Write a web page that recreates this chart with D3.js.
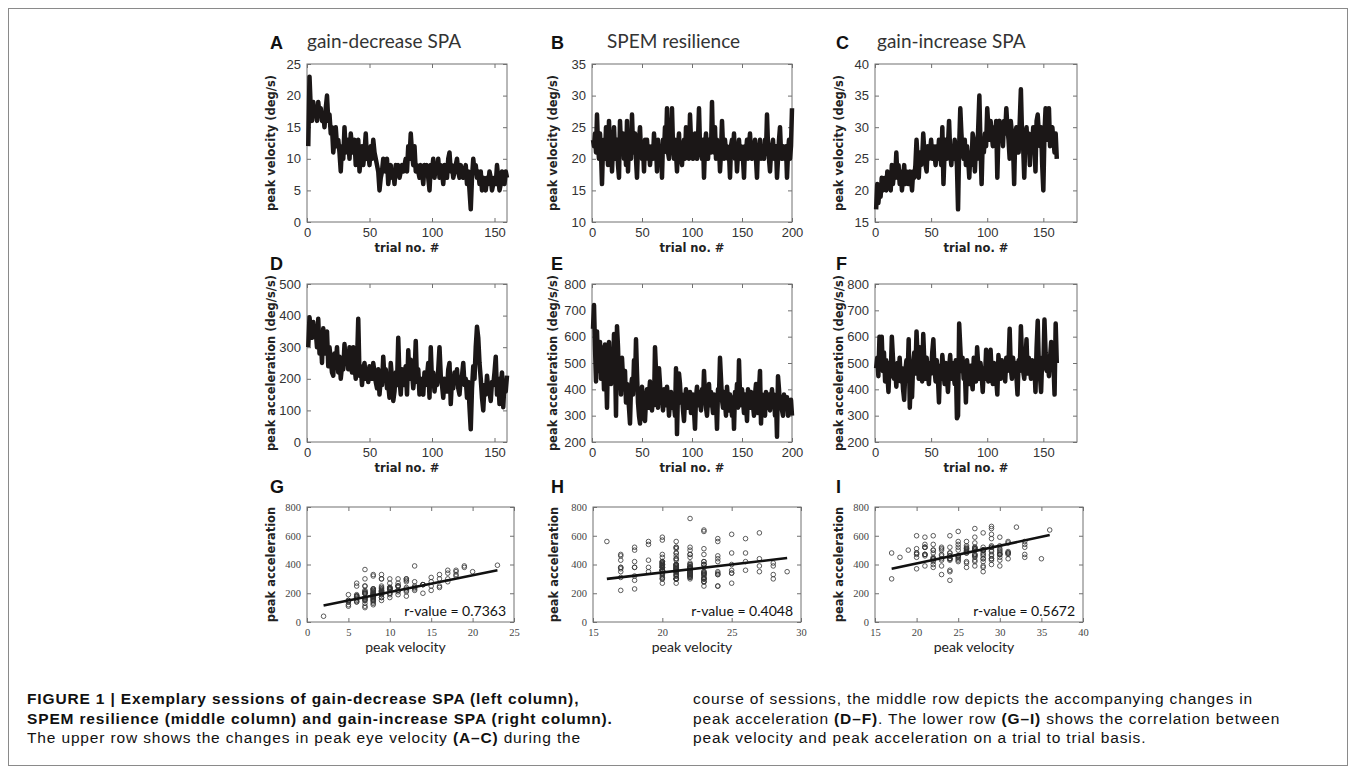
<!DOCTYPE html>
<html>
<head>
<meta charset="utf-8">
<script src="https://cdn.jsdelivr.net/npm/d3@7"></script>
<style>
  body { margin: 0; background: #fff; }
  svg { display: block; }
</style>
</head>
<body>
<svg id="fig" width="1355" height="771"></svg>
<script>
// ---- data ----
// peak velocity per trial (deg/s)
const velDecrease = [
  12, 23, 18, 16, 19, 17, 18, 16, 19, 17,  18, 16, 17, 15, 18, 20, 16, 17, 14, 15,
  11, 13, 15, 12, 13, 11, 8, 12, 10, 15,   11, 12, 13, 10, 14, 12, 11, 13, 9, 11,
  13, 8, 10, 12, 9, 11, 14, 10, 11, 9,     12, 10, 13, 11, 10, 9, 8, 5, 7, 8,
  10, 9, 8, 10, 6, 8, 9, 7, 8, 6,          9, 8, 9, 7, 8, 9, 8, 9, 10, 8,
  12, 10, 14, 11, 9, 12, 8, 9, 8, 7,       9, 8, 6, 9, 8, 9, 7, 5, 9, 8,
  10, 7, 9, 8, 10, 7, 9, 8, 6, 9,          8, 7, 10, 11, 8, 9, 7, 8, 9, 10,
  8, 7, 9, 8, 7, 8, 9, 6, 8, 5,            2, 7, 10, 8, 9, 7, 8, 6, 8, 5,
  7, 6, 5, 7, 6, 8, 7, 5, 6, 7,            6, 9, 7, 5, 6, 8, 7, 6, 8, 7
];
const velResilience = [
  23, 22, 24, 21, 27, 22, 20, 24, 21, 16,  22, 23, 20, 25, 22, 19, 26, 21, 23, 18,
  22, 25, 21, 20, 23, 19, 17, 26, 22, 21,  24, 20, 22, 19, 26, 18, 23, 21, 20, 27,
  22, 21, 24, 20, 17, 22, 23, 25, 21, 20,  22, 18, 23, 21, 23, 20, 22, 19, 21, 22,
  20, 24, 21, 22, 18, 23, 21, 20, 22, 17,  23, 21, 25, 22, 28, 21, 20, 24, 22, 28,
  22, 20, 23, 21, 18, 22, 24, 20, 21, 19,  22, 23, 20, 25, 21, 22, 20, 27, 23, 21,
  20, 22, 24, 21, 20, 23, 28, 22, 21, 20,  23, 17, 22, 24, 21, 20, 23, 22, 21, 29,
  22, 21, 25, 20, 23, 21, 22, 18, 21, 26,  22, 20, 23, 21, 22, 20, 21, 17, 22, 23,
  21, 24, 20, 22, 18, 21, 23, 20, 22, 21,  20, 17, 22, 21, 23, 20, 22, 24, 21, 20,
  22, 21, 23, 20, 17, 22, 21, 23, 20, 22,  21, 20, 23, 21, 27, 22, 20, 18, 21, 22,
  23, 20, 21, 22, 17, 20, 23, 25, 21, 20,  22, 21, 20, 22, 17, 21, 23, 20, 22, 28
];
const velIncrease = [
  17, 21, 18, 20, 19, 22, 20, 21, 22, 20,  23, 21, 22, 20, 24, 21, 23, 22, 26, 22,
  24, 21, 23, 20, 22, 24, 21, 23, 22, 21,  23, 22, 20, 23, 22, 24, 28, 25, 22, 26,
  24, 25, 29, 26, 24, 23, 27, 25, 26, 28,  25, 27, 26, 24, 27, 25, 28, 26, 24, 30,
  21, 26, 28, 25, 27, 31, 26, 24, 27, 25,  28, 26, 24, 17, 27, 33, 29, 26, 25, 28,
  24, 27, 25, 22, 26, 24, 29, 28, 23, 27,  25, 30, 35, 27, 21, 28, 26, 29, 27, 33,
  30, 28, 31, 29, 27, 30, 28, 31, 22, 29,  31, 28, 30, 27, 31, 29, 33, 30, 28, 25,
  31, 29, 27, 21, 29, 30, 28, 26, 31, 36,  29, 27, 22, 28, 30, 27, 29, 24, 28, 27,
  30, 28, 23, 31, 32, 29, 27, 30, 24, 20,  29, 33, 30, 28, 33, 27, 29, 30, 28, 26,
  29, 25
];
// peak acceleration per trial (deg/s/s)
const accDecrease = [
  300, 395, 360, 330, 380, 340, 350, 300, 390, 280,  330, 250, 360, 280, 320, 350, 240, 300, 260, 220,
  210, 280, 250, 300, 220, 270, 200, 240, 230, 310,  250, 280, 230, 300, 260, 220, 300, 240, 200, 250,
  390, 210, 240, 180, 230, 250, 200, 230, 190, 240,  230, 200, 250, 220, 190, 170, 230, 150, 200, 180,
  270, 200, 230, 170, 180, 140, 250, 200, 130, 160,  220, 180, 330, 200, 150, 230, 180, 210, 240, 150,
  290, 200, 260, 220, 170, 210, 320, 190, 230, 150,  200, 170, 150, 220, 180, 210, 250, 140, 300, 190,
  220, 160, 200, 180, 230, 300, 210, 180, 140, 200,  190, 160, 230, 250, 120, 200, 170, 220, 190, 230,
  170, 150, 200, 210, 250, 180, 200, 140, 190, 110,  40, 170, 240, 200, 300, 365, 330, 250, 200, 140,
  100, 180, 150, 210, 170, 160, 130, 190, 180, 220,  270, 150, 200, 120, 180, 220, 110, 190, 160, 210
];
const accResilience = [
  630, 720, 560, 430, 620, 500, 470, 580, 440, 560,  520, 400, 570, 480, 330, 540, 580, 460, 420, 500,
  450, 610, 520, 300, 640, 560, 430, 480, 380, 520,  440, 400, 470, 350, 420, 380, 330, 270, 410, 440,
  380, 510, 420, 590, 460, 350, 300, 270, 380, 410,  340, 290, 280, 360, 400, 330, 380, 430, 350, 320,
  390, 340, 560, 470, 380, 330, 480, 420, 350, 380,  320, 400, 360, 340, 410, 370, 300, 350, 390, 330,
  380, 340, 300, 480, 230, 400, 460, 420, 350, 380,  320, 280, 360, 400, 330, 370, 340, 390, 310, 350,
  380, 320, 250, 370, 410, 340, 390, 360, 320, 400,  350, 470, 380, 330, 300, 360, 420, 340, 390, 350,
  310, 380, 340, 360, 250, 400, 380, 520, 440, 360,  330, 390, 350, 300, 410, 360, 320, 380, 340, 300,
  370, 250, 390, 350, 420, 330, 510, 380, 340, 400,  360, 310, 380, 350, 280, 400, 370, 330, 390, 360,
  340, 300, 380, 420, 350, 310, 400, 470, 270, 380,  340, 360, 300, 390, 350, 330, 380, 320, 360, 400,
  340, 380, 300, 360, 220, 450, 400, 340, 370, 320,  300, 380, 350, 330, 370, 300, 340, 310, 360, 300
];
const accIncrease = [
  480, 520, 450, 600, 500, 600, 470, 540, 430, 510,  460, 390, 500, 450, 600, 520, 440, 480, 410, 500,
  460, 520, 430, 480, 400, 360, 470, 510, 440, 590,  330, 450, 370, 500, 540, 460, 620, 520, 440, 560,
  480, 430, 610, 500, 440, 520, 470, 420, 500, 460,  540, 590, 480, 430, 510, 450, 350, 490, 440, 530,
  470, 420, 500, 460, 390, 480, 530, 440, 500, 460,  420, 510, 290, 300, 650, 560, 470, 520, 440, 480,
  350, 510, 460, 420, 490, 440, 400, 520, 470, 430,  560, 490, 440, 500, 460, 390, 480, 440, 550, 470,
  430, 500, 550, 460, 420, 500, 470, 440, 380, 530,  480, 440, 510, 460, 490, 430, 520, 470, 500, 630,
  480, 440, 520, 470, 500, 450, 380, 510, 470, 640,  520, 470, 440, 500, 590, 460, 520, 480, 440, 510,
  470, 500, 390, 560, 660, 490, 450, 390, 520, 480,  665, 540, 470, 500, 450, 520, 580, 480, 500, 380,
  650, 500
];
// regression lines [velocity, acceleration] at both ends, and r-values
const fitDecrease = [[2, 115], [23, 360]];
const fitResilience = [[16, 300], [29, 445]];
const fitIncrease = [[17, 370], [36, 605]];
const rValues = ["0.7363", "0.4048", "0.5672"];

const panelLetters = ["A", "B", "C", "D", "E", "F", "G", "H", "I"];
const columnTitles = ["gain-decrease SPA", "SPEM resilience", "gain-increase SPA"];

const trialDomains = [[0, 160], [0, 200], [0, 180]];
const trialTicks = [[0, 50, 100, 150], [0, 50, 100, 150, 200], [0, 50, 100, 150]];
const velDomains = [[0, 25], [10, 35], [15, 40]];
const velTicks = [[0, 5, 10, 15, 20, 25], [10, 15, 20, 25, 30, 35], [15, 20, 25, 30, 35, 40]];
const accDomains = [[0, 500], [200, 800], [200, 800]];
const accTicks = [[0, 100, 200, 300, 400, 500], [200, 300, 400, 500, 600, 700, 800], [200, 300, 400, 500, 600, 700, 800]];
const scatterXDomains = [[0, 25], [15, 30], [15, 40]];
const scatterXTicks = [[0, 5, 10, 15, 20, 25], [15, 20, 25, 30], [15, 20, 25, 30, 35, 40]];
const scatterYTicks = [0, 200, 400, 600, 800];

const captionLeft = [
  [["FIGURE 1 | Exemplary sessions of gain-decrease SPA (left column),", true]],
  [["SPEM resilience (middle column) and gain-increase SPA (right column).", true]],
  [["The upper row shows the changes in peak eye velocity ", false], ["(A–C)", true], [" during the", false]]
];
const captionRight = [
  [["course of sessions, the middle row depicts the accompanying changes in", false]],
  [["peak acceleration ", false], ["(D–F)", true], [". The lower row ", false], ["(G–I)", true], [" shows the correlation between", false]],
  [["peak velocity and peak acceleration on a trial to trial basis.", false]]
];

// ---- layout ----
const colX = [[307, 507], [592, 792], [875, 1077]];
const colX3 = [[307, 514], [593, 801], [875, 1083]];
const rowY = [[64, 222], [284, 442], [507, 622]];
const axisColor = "#707070";
const inkColor = "#1b1717";

const svg = d3.select("#fig");
svg.append("rect").attr("width", 1355).attr("height", 771).attr("fill", "#fff");
svg.append("rect").attr("x", 8.5).attr("y", 8.5).attr("width", 1339).attr("height", 757)
  .attr("fill", "none").attr("stroke", "#8a8a8a").attr("stroke-width", 1);

function frame(x, y, xTicks, yTicks, font, fontSize, color) {
  const [x0, x1] = x.range();
  const [y1, y0] = y.range();
  const g = svg.append("g");
  const tl = 4;
  const styleAxis = sel => {
    sel.select(".domain").remove();
    sel.selectAll(".tick line").attr("stroke", axisColor);
    sel.selectAll(".tick text").attr("font-family", font).attr("font-size", fontSize).attr("fill", color);
  };
  g.append("g").attr("transform", `translate(0,${y1})`)
    .call(d3.axisBottom(x).tickValues(xTicks).tickSizeInner(-tl).tickSizeOuter(0).tickPadding(fontSize > 12 ? 6 : 7))
    .call(styleAxis);
  g.append("g").attr("transform", `translate(0,${y0})`)
    .call(d3.axisTop(x).tickValues(xTicks).tickSizeInner(-tl).tickSizeOuter(0).tickFormat(""))
    .call(styleAxis);
  g.append("g").attr("transform", `translate(${x0},0)`)
    .call(d3.axisLeft(y).tickValues(yTicks).tickSizeInner(-tl).tickSizeOuter(0).tickPadding(6))
    .call(styleAxis);
  g.append("g").attr("transform", `translate(${x1},0)`)
    .call(d3.axisRight(y).tickValues(yTicks).tickSizeInner(-tl).tickSizeOuter(0).tickFormat(""))
    .call(styleAxis);
  g.append("rect").attr("x", x0).attr("y", y0).attr("width", x1 - x0).attr("height", y1 - y0)
    .attr("fill", "none").attr("stroke", axisColor).attr("stroke-width", 1);
  return g;
}

function yTitle(xPos, yMid, text) {
  svg.append("text")
    .attr("transform", `translate(${xPos},${yMid}) rotate(-90)`)
    .attr("text-anchor", "middle")
    .attr("font-family", "DejaVu Sans").attr("font-weight", "bold").attr("font-size", 11.5)
    .attr("fill", "#222").text(text);
}

function seriesPanel(col, row, values, domain, ticks, yDomain, yTicks, yLabel) {
  const x = d3.scaleLinear().domain(trialDomains[col]).range(colX[col]);
  const y = d3.scaleLinear().domain(yDomain).range([rowY[row][1], rowY[row][0]]);
  frame(x, y, trialTicks[col], yTicks, "Liberation Sans", 13, "#333");
  const line = d3.line().x((d, i) => x(i + 1)).y(d => y(d));
  svg.append("path").datum(values)
    .attr("fill", "none").attr("stroke", inkColor).attr("stroke-width", 4.5)
    .attr("stroke-linejoin", "round").attr("d", line);
  svg.append("text").attr("x", (colX[col][0] + colX[col][1]) / 2).attr("y", rowY[row][1] + 30)
    .attr("text-anchor", "middle").attr("font-family", "DejaVu Sans").attr("font-weight", "bold")
    .attr("font-size", 11.5).attr("fill", "#222").text("trial no. #");
  yTitle(colX[col][0] - (col === 1 ? 35 : 32), (rowY[row][0] + rowY[row][1]) / 2, yLabel);
}

function scatterPanel(col, vel, acc, fit, r) {
  const x = d3.scaleLinear().domain(scatterXDomains[col]).range(colX3[col]);
  const y = d3.scaleLinear().domain([0, 800]).range([rowY[2][1], rowY[2][0]]);
  frame(x, y, scatterXTicks[col], scatterYTicks, "Liberation Serif", 10.5, "#444");
  svg.append("g").selectAll("circle").data(vel.map((v, i) => [v, acc[i]])).join("circle")
    .attr("cx", d => x(d[0])).attr("cy", d => y(d[1])).attr("r", 2.3)
    .attr("fill", "none").attr("stroke", "#333").attr("stroke-width", 0.8);
  svg.append("path").datum(fit)
    .attr("fill", "none").attr("stroke", "#111").attr("stroke-width", 2.6)
    .attr("d", d3.line().x(d => x(d[0])).y(d => y(d[1])));
  svg.append("text").attr("x", colX3[col][1] - 8).attr("y", rowY[2][1] - 6)
    .attr("text-anchor", "end").attr("font-family", "Lato").attr("font-size", 14)
    .attr("fill", "#111").text(`r-value = ${r}`);
  svg.append("text").attr("x", (colX3[col][0] + colX3[col][1]) / 2 - 5).attr("y", rowY[2][1] + 30)
    .attr("text-anchor", "middle").attr("font-family", "Lato").attr("font-size", 14)
    .attr("fill", "#222").text("peak velocity");
  yTitle(colX3[col][0] - (col === 1 ? 35 : 32), (rowY[2][0] + rowY[2][1]) / 2, "peak acceleration");
}

const velocities = [velDecrease, velResilience, velIncrease];
const accelerations = [accDecrease, accResilience, accIncrease];
const fits = [fitDecrease, fitResilience, fitIncrease];

for (let c = 0; c < 3; c++) {
  seriesPanel(c, 0, velocities[c], trialDomains[c], trialTicks[c], velDomains[c], velTicks[c], "peak velocity (deg/s)");
  seriesPanel(c, 1, accelerations[c], trialDomains[c], trialTicks[c], accDomains[c], accTicks[c], "peak acceleration (deg/s/s)");
  scatterPanel(c, velocities[c], accelerations[c], fits[c], rValues[c]);
}

// panel letters and column titles
const letterX = [270, 551, 836];
const letterY = [49, 270, 493];
panelLetters.forEach((l, i) => {
  svg.append("text").attr("x", letterX[i % 3]).attr("y", letterY[Math.floor(i / 3)])
    .attr("font-family", "Liberation Sans").attr("font-weight", "bold").attr("font-size", 18)
    .attr("fill", "#111").text(l);
});
const titleX = [307, 607, 877];
columnTitles.forEach((t, i) => {
  svg.append("text").attr("x", titleX[i]).attr("y", 48)
    .attr("font-family", "Lato").attr("font-size", 19).attr("fill", "#333").text(t);
});

// caption
function caption(lines, x0) {
  lines.forEach((segs, i) => {
    const t = svg.append("text").attr("x", x0).attr("y", 704 + i * 19.5)
      .attr("font-family", "Liberation Sans").attr("font-size", 15.5)
      .attr("letter-spacing", 0.85).attr("fill", "#111");
    segs.forEach(([s, b]) => t.append("tspan").attr("font-weight", b ? "bold" : "normal").text(s));
  });
}
caption(captionLeft, 27);
caption(captionRight, 693);
</script>
</body>
</html>
